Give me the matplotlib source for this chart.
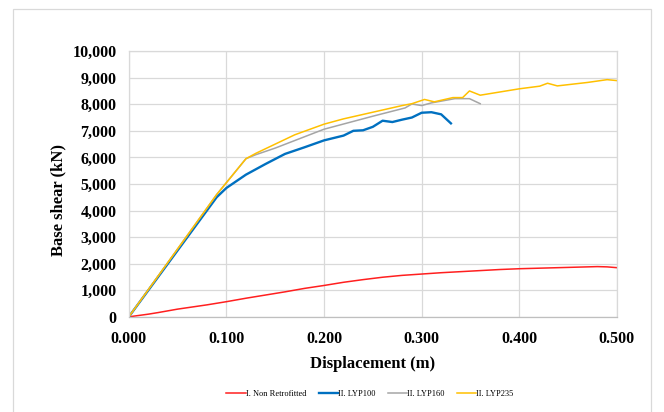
import matplotlib.pyplot as plt
from matplotlib.patches import Rectangle
from matplotlib.ticker import FuncFormatter

# Data (displacement in m, base shear in kN)
red_x = [0, 0.02, 0.03, 0.05, 0.08, 0.10, 0.12, 0.14, 0.16, 0.18, 0.20, 0.22, 0.24,
         0.26, 0.28, 0.30, 0.32, 0.34, 0.36, 0.38, 0.40, 0.42, 0.44, 0.46, 0.48, 0.49, 0.50]
red_y = [0, 100, 160, 290, 450, 570, 700, 820, 940, 1070, 1180, 1300, 1400,
         1490, 1560, 1610, 1660, 1700, 1740, 1780, 1810, 1830, 1850, 1870, 1890, 1880, 1850]

blue_x = [0, 0.09, 0.10, 0.12, 0.14, 0.16, 0.18, 0.20, 0.22, 0.23, 0.24, 0.25, 0.26,
          0.27, 0.28, 0.29, 0.30, 0.31, 0.32, 0.33]
blue_y = [0, 4500, 4850, 5350, 5750, 6130, 6380, 6640, 6820, 7000, 7020, 7150, 7380,
          7330, 7420, 7500, 7680, 7700, 7620, 7280]

gray_x = [0, 0.09, 0.10, 0.11, 0.12, 0.13, 0.15, 0.20, 0.25, 0.283, 0.29, 0.30, 0.31,
          0.334, 0.349, 0.36]
gray_y = [0, 4600, 5050, 5500, 5950, 6100, 6350, 7060, 7550, 7860, 8010, 7950, 8050,
          8210, 8210, 8020]

yellow_x = [0, 0.09, 0.10, 0.11, 0.12, 0.13, 0.15, 0.17, 0.20, 0.22, 0.25, 0.28, 0.29,
            0.303, 0.313, 0.332, 0.342, 0.349, 0.36, 0.38, 0.40, 0.421, 0.429, 0.439,
            0.47, 0.49, 0.50]
yellow_y = [0, 4600, 5050, 5500, 5950, 6150, 6500, 6850, 7250, 7450, 7700, 7950, 8020,
            8180, 8090, 8250, 8250, 8500, 8340, 8460, 8580, 8680, 8790, 8690,
            8820, 8925, 8890]

labels = ['I. Non Retrofitted', 'II. LYP100', 'II. LYP160', 'II. LYP235']

plt.rcParams['font.family'] = ['Liberation Serif', 'DejaVu Serif']

fig = plt.figure(figsize=(6.64, 4.12), dpi=100)
ax = fig.add_axes([0.194, 0.231, 0.735, 0.645])

ax.plot(red_x, red_y, color='#FF1F1F', lw=1.1, label=labels[0])
ax.plot(blue_x, blue_y, color='#0070C0', lw=1.7, label=labels[1])
ax.plot(gray_x, gray_y, color='#A5A5A5', lw=1.1, label=labels[2])
ax.plot(yellow_x, yellow_y, color='#FFC000', lw=1.1, label=labels[3])

ax.set_xlim(0, 0.5)
ax.set_ylim(0, 10000)
ax.set_xticks([0, 0.1, 0.2, 0.3, 0.4, 0.5])
ax.set_yticks(range(0, 10001, 1000))
ax.xaxis.set_major_formatter(FuncFormatter(lambda v, p: f'{v:.3f}'))
ax.yaxis.set_major_formatter(FuncFormatter(lambda v, p: f'{int(v):,}'))
ax.tick_params(length=0, labelsize=11.5)
ax.tick_params(axis='y', pad=9)
ax.tick_params(axis='x', pad=10)
for t in ax.get_xticklabels() + ax.get_yticklabels():
    t.set_fontweight('bold')

ax.grid(True, color='#D9D9D9', lw=0.9)
ax.set_axisbelow(True)
for s in ax.spines.values():
    s.set_color('#D9D9D9')
    s.set_linewidth(0.9)
ax.spines['bottom'].set_color('#BFBFBF')

ax.set_xlabel('Displacement (m)', fontsize=12, fontweight='bold', labelpad=7)
ax.set_ylabel('Base shear (kN)', fontsize=12, fontweight='bold')
ax.yaxis.set_label_coords(-0.128, 0.44)

fig.legend(loc='center', bbox_to_anchor=(370 / 664, 1 - 394 / 412), ncol=4,
           frameon=False, fontsize=6, handlelength=2.3, handletextpad=0.0,
           columnspacing=1.5)

# outer chart frame
fig.patches.append(Rectangle((13 / 664, -0.05), (651 - 13) / 664, 1.05 - 9 / 412,
                             transform=fig.transFigure, fill=False,
                             edgecolor='#D9D9D9', lw=0.9))

fig.savefig('out.png', dpi=100)
